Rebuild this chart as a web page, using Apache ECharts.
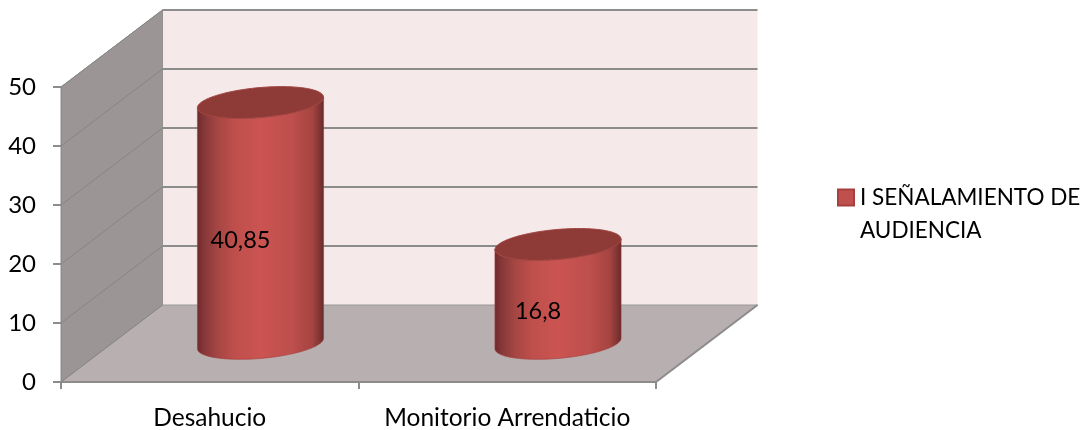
<!DOCTYPE html>
<html>
<head>
<meta charset="utf-8">
<style>html,body{margin:0;padding:0;background:#fff}#chart{width:1086px;height:430px}</style>
<script src="https://cdn.jsdelivr.net/npm/echarts@6/dist/echarts.min.js"></script>
</head>
<body>
<div id="chart"></div>
<script>
const categories = ['Desahucio', 'Monitorio Arrendaticio'];
const values = [40.85, 16.8];
const valueTicks = [0, 10, 20, 30, 40, 50];
const seriesName = 'I SEÑALAMIENTO DE\nAUDIENCIA';

// Oblique projection of the plot box: how far the back plane sits from the front plane.
const DEPTH = { x: 101.5, y: -77 };
const LABEL_FONT = 'Lato, Carlito, Calibri, sans-serif';
const GRID_COLOR = '#8c8c8c';

const back = p => [p[0] + DEPTH.x, p[1] + DEPTH.y];

// Side wall, floor, back wall and the gridlines that wrap around them.
function renderWalls(params, api) {
  const n = categories.length;
  const fl = api.coord([0, 0]);
  const band = api.size([1, 0])[0];
  fl[0] -= band / 2;
  const fr = [fl[0] + band * n, fl[1]];
  const tl = [fl[0], api.coord([0, valueTicks[valueTicks.length - 1]])[1]];
  const tr = [fr[0], tl[1]];
  const children = [
    { type: 'polygon', shape: { points: [back(tl), back(tr), back(fr), back(fl)] },
      style: { fill: '#f5e9e9' } },
    { type: 'polygon', shape: { points: [tl, back(tl), back(fl), fl] },
      style: { fill: '#9b9695', stroke: '#929090', lineWidth: 1 } },
    { type: 'polygon', shape: { points: [fl, back(fl), back(fr), fr] },
      style: { fill: '#b8b0b0', stroke: '#9a9898', lineWidth: 1 } }
  ];
  valueTicks.forEach(v => {
    const y = api.coord([0, v])[1];
    const l = [fl[0], y], r = [fr[0], y];
    children.push({ type: 'line', shape: { x1: l[0], y1: l[1], x2: back(l)[0], y2: back(l)[1] },
      style: { stroke: '#858585', lineWidth: 1 } });
    if (v > 0) {
      children.push({ type: 'line',
        shape: { x1: back(l)[0], y1: back(l)[1], x2: back(r)[0], y2: back(r)[1] },
        style: { stroke: GRID_COLOR, lineWidth: 2 } });
    }
  });
  children.push({ type: 'line', shape: { x1: fr[0], y1: fr[1], x2: back(fr)[0], y2: back(fr)[1] },
    style: { stroke: GRID_COLOR, lineWidth: 2 } });
  return { type: 'group', children };
}

// Point on a sheared circle lying in the horizontal plane of the plot box.
function rimPoint(c, a, t) {
  const k = 0.206;
  return [c[0] + a * Math.cos(t) + k * DEPTH.x * Math.sin(t), c[1] + k * DEPTH.y * Math.sin(t)];
}

function renderCylinder(params, api) {
  const idx = api.value(0);
  const v = api.value(1);
  const band = api.size([1, 0])[0];
  const a = band * 0.2;
  const base = api.coord([idx, 0]);
  const top = api.coord([idx, v]);
  const cb = [base[0] + DEPTH.x / 2, base[1] + DEPTH.y / 2];
  const ct = [top[0] + DEPTH.x / 2, top[1] + DEPTH.y / 2];
  const t0 = Math.atan2(0.206 * DEPTH.x, a);
  const steps = 72;
  const body = [];
  for (let i = 0; i <= steps; i++) body.push(rimPoint(cb, a, t0 - Math.PI * i / steps));
  for (let i = steps; i >= 0; i--) body.push(rimPoint(ct, a, t0 - Math.PI * i / steps));
  const lid = [];
  for (let i = 0; i < steps * 2; i++) lid.push(rimPoint(ct, a, Math.PI * i / steps));
  return {
    type: 'group',
    children: [
      { type: 'polygon', shape: { points: body },
        style: {
          fill: { type: 'linear', x: 0, y: 0, x2: 1, y2: 0, colorStops: [
            { offset: 0, color: '#6f2b29' },
            { offset: 0.06, color: '#87383a' },
            { offset: 0.16, color: '#a54643' },
            { offset: 0.3, color: '#bf4f4c' },
            { offset: 0.5, color: '#cb5451' },
            { offset: 0.75, color: '#bd4f4c' },
            { offset: 0.91, color: '#a54441' },
            { offset: 0.98, color: '#773130' },
            { offset: 1, color: '#622624' }
          ] },
          stroke: '#a33d3a', lineWidth: 0.6
        } },
      { type: 'polygon', shape: { points: lid },
        style: { fill: '#8e3a37', stroke: '#a04440', lineWidth: 1 } },
      { type: 'text', x: ct[0] - 20, y: (ct[1] + cb[1]) / 2 + 17,
        style: { text: String(v).replace('.', ','), font: '23.5px ' + LABEL_FONT, fill: '#000',
          align: 'center', verticalAlign: 'middle' } }
    ]
  };
}

const chart = echarts.init(document.getElementById('chart'), null, { renderer: 'canvas' });
chart.setOption({
  animation: false,
  backgroundColor: '#ffffff',
  grid: { left: 61, right: 430, top: 87, bottom: 48, outerBoundsMode: 'none' },
  legend: {
    left: 837, top: 148, orient: 'vertical', selectedMode: false, padding: 0,
    itemWidth: 16, itemHeight: 16, itemGap: 0,
    icon: 'rect',
    // A leading blank line keeps the first line of the wrapped name level with the swatch.
    formatter: name => '\n' + name,
    textStyle: { fontFamily: LABEL_FONT, fontSize: 22.5, color: '#000', lineHeight: 33, padding: [0, 0, 0, 1] },
    data: [seriesName]
  },
  xAxis: {
    type: 'category', data: categories, z: 5,
    axisLine: { lineStyle: { color: GRID_COLOR, width: 2 } },
    axisTick: { show: true, alignWithLabel: false, length: 7, lineStyle: { color: GRID_COLOR, width: 2 } },
    axisLabel: { fontFamily: LABEL_FONT, fontSize: 24.5, color: '#000', margin: 24, interval: 0 }
  },
  yAxis: {
    type: 'value', min: 0, max: 50, interval: 10, z: 5,
    splitLine: { show: false },
    axisLine: { show: true, lineStyle: { color: GRID_COLOR, width: 1 } },
    axisTick: { show: true, length: 8, lineStyle: { color: GRID_COLOR, width: 2 } },
    axisLabel: { fontFamily: LABEL_FONT, fontSize: 24, color: '#000', margin: 25 }
  },
  series: [
    { type: 'custom', silent: true, renderItem: renderWalls, data: [[0, 0]], z: 1, encode: { x: 0, y: 1 } },
    { type: 'custom', name: seriesName, silent: true, renderItem: renderCylinder, z: 2,
      itemStyle: { color: '#c0504d', borderColor: '#a5403d', borderWidth: 1 },
      encode: { x: 0, y: 1 },
      data: values.map((v, i) => [i, v]) }
  ]
});
</script>
</body>
</html>
